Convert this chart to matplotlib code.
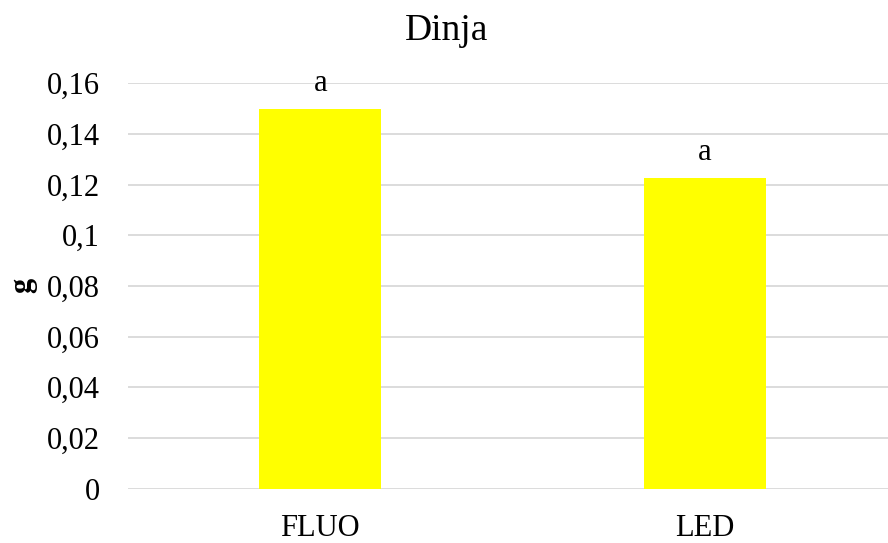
import numpy as np
import matplotlib.pyplot as plt
from matplotlib.ticker import FuncFormatter

categories = ['FLUO', 'LED']
values = [0.1498, 0.1225]
letters = ['a', 'a']
yticks = [0, 0.02, 0.04, 0.06, 0.08, 0.1, 0.12, 0.14, 0.16]

plt.rcParams['font.family'] = ['Liberation Serif', 'DejaVu Serif']

fig = plt.figure(figsize=(8.88, 5.43), dpi=100)
ax = fig.add_axes([128/888, (543-488.5)/543, (897-128)/888, (488.5-83.3)/543])

x = np.arange(len(categories))
ax.bar(x, values, width=0.317, color='#FFFF00', zorder=2)
for xi, v, t in zip(x, values, letters):
    ax.text(xi, v + 0.0045, t, ha='center', va='bottom', fontsize=22)

ax.set_xlim(-0.5, 1.5)
ax.set_ylim(0, 0.16)
ax.set_yticks(yticks)
ax.yaxis.set_major_formatter(FuncFormatter(lambda v, p: ('%g' % v).replace('.', ',')))
ax.set_xticks(x)
ax.set_xticklabels(categories)
ax.tick_params(axis='y', length=0, pad=20, labelsize=22)
ax.tick_params(axis='x', length=0, pad=18, labelsize=22)
ax.yaxis.grid(True, color='#d9d9d9', linewidth=1.3, zorder=0)
for s in ax.spines.values():
    s.set_visible(False)

ax.set_ylabel('g', fontweight='bold', fontsize=22)
ax.yaxis.set_label_coords(-0.118, 0.5)
fig.text(447/888, 1 - 31/543, 'Dinja', ha='center', va='center', fontsize=27)

fig.savefig('out.png', dpi=100)
